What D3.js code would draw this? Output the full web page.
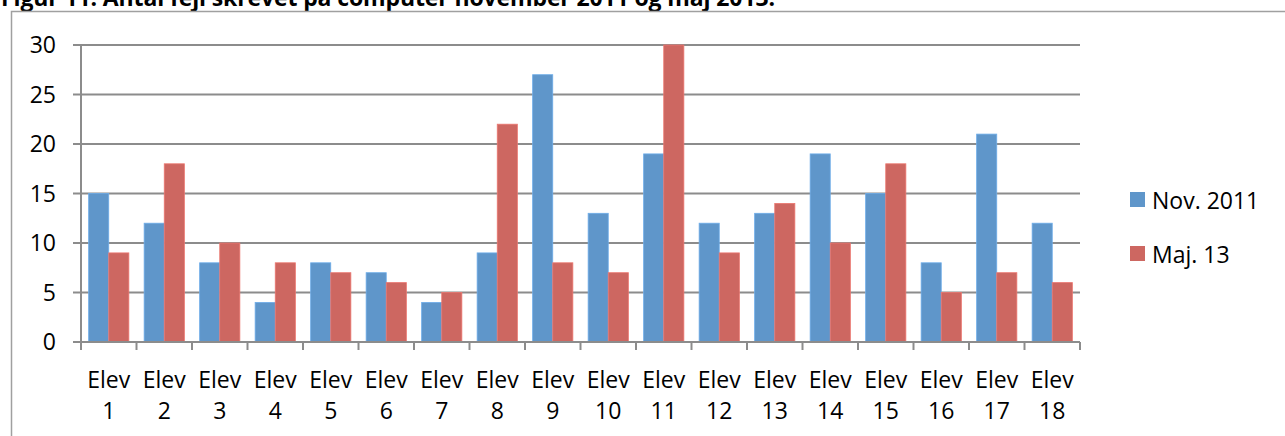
<!DOCTYPE html>
<meta charset="utf-8">
<style>
body { margin: 0; background: #fff; }
text { font-family: "Open Sans", sans-serif; fill: #000; }
.grid line { stroke: #8c8c8c; stroke-width: 2px; }
</style>
<body>
<svg id="chart" width="1285" height="436"></svg>
<script src="https://d3js.org/d3.v7.min.js"></script>
<script>
// data
var elever = ["1","2","3","4","5","6","7","8","9","10","11","12","13","14","15","16","17","18"];
var nov2011 = [15,12,8,4,8,7,4,9,27,13,19,12,13,19,15,8,21,12];
var maj13 = [9,18,10,8,7,6,5,22,8,7,30,9,14,10,18,5,7,6];
var yTicks = [0,5,10,15,20,25,30];
var seriesNames = ["Nov. 2011", "Maj. 13"];
var colors = ["#5f96ca", "#cd6761"];

var svg = d3.select("#chart");

// cut off title
svg.append("text")
  .attr("x", 1).attr("y", 6)
  .style("font-weight", "bold").style("font-size", "23px")
  .attr("textLength", 774)
  .text("Figur 11: Antal fejl skrevet på computer november 2011 og maj 2013.");

// outer frame (extends past the window on right and bottom)
svg.append("rect")
  .attr("x", 11.5).attr("y", 11.5).attr("width", 1400).attr("height", 500)
  .attr("fill", "none").attr("stroke", "#a0a0a0").attr("stroke-width", 1.5);

var pLeft = 81, pRight = 1080, pTop = 45, pBottom = 342;

var x = d3.scaleBand().domain(elever).range([pLeft, pRight]).paddingInner(0).paddingOuter(0);
var y = d3.scaleLinear().domain([0, 30]).range([pBottom, pTop]);

// gridlines + y labels
var grid = svg.append("g").attr("class", "grid");
grid.selectAll("line").data(yTicks).join("line")
  .attr("x1", pLeft - 8).attr("x2", pRight)
  .attr("y1", d => y(d)).attr("y2", d => y(d));

svg.append("g").selectAll("text").data(yTicks).join("text")
  .attr("x", 56).attr("y", d => y(d) + 8)
  .attr("text-anchor", "end").style("font-size", "23px")
  .text(d => d);

// y axis line
svg.append("line").attr("x1", pLeft).attr("x2", pLeft).attr("y1", pTop).attr("y2", pBottom + 8)
  .attr("stroke", "#8c8c8c").attr("stroke-width", 2);

// category tick marks
svg.append("g").selectAll("line").data(elever).join("line")
  .attr("x1", d => x(d) + x.bandwidth()).attr("x2", d => x(d) + x.bandwidth())
  .attr("y1", pBottom).attr("y2", pBottom + 8)
  .attr("stroke", "#8c8c8c").attr("stroke-width", 2);

// bars
var inner = d3.scaleBand().domain([0, 1]).range([0, x.bandwidth()]).paddingInner(0).paddingOuter(0.38);
var series = [nov2011, maj13];
series.forEach(function(vals, si) {
  svg.append("g").selectAll("rect").data(vals).join("rect")
    .attr("x", (d, i) => x(elever[i]) + inner(si))
    .attr("width", inner.bandwidth())
    .attr("y", d => y(d))
    .attr("height", d => pBottom - y(d))
    .attr("fill", colors[si])
    .attr("stroke", d3.color(colors[si]).brighter(0.4))
    .attr("stroke-width", 0.8);
});

// baseline on top of bars
svg.append("line").attr("x1", pLeft - 8).attr("x2", pRight).attr("y1", pBottom).attr("y2", pBottom)
  .attr("stroke", "#8c8c8c").attr("stroke-width", 2);

// x labels
var xl = svg.append("g").selectAll("text").data(elever).join("text")
  .attr("text-anchor", "middle").style("font-size", "23px");
xl.append("tspan").attr("x", d => x(d) + x.bandwidth() / 2).attr("y", 388).text("Elev");
xl.append("tspan").attr("x", d => x(d) + x.bandwidth() / 2).attr("y", 419).text(d => d);

// legend
var lg = svg.append("g").selectAll("g").data(seriesNames).join("g")
  .attr("transform", (d, i) => "translate(1130," + (192 + i * 54) + ")");
lg.append("rect").attr("width", 15).attr("height", 15).attr("fill", (d, i) => colors[i]);
lg.append("text").attr("x", 22).attr("y", 17).style("font-size", "23px").text(d => d);
</script>
</body>
